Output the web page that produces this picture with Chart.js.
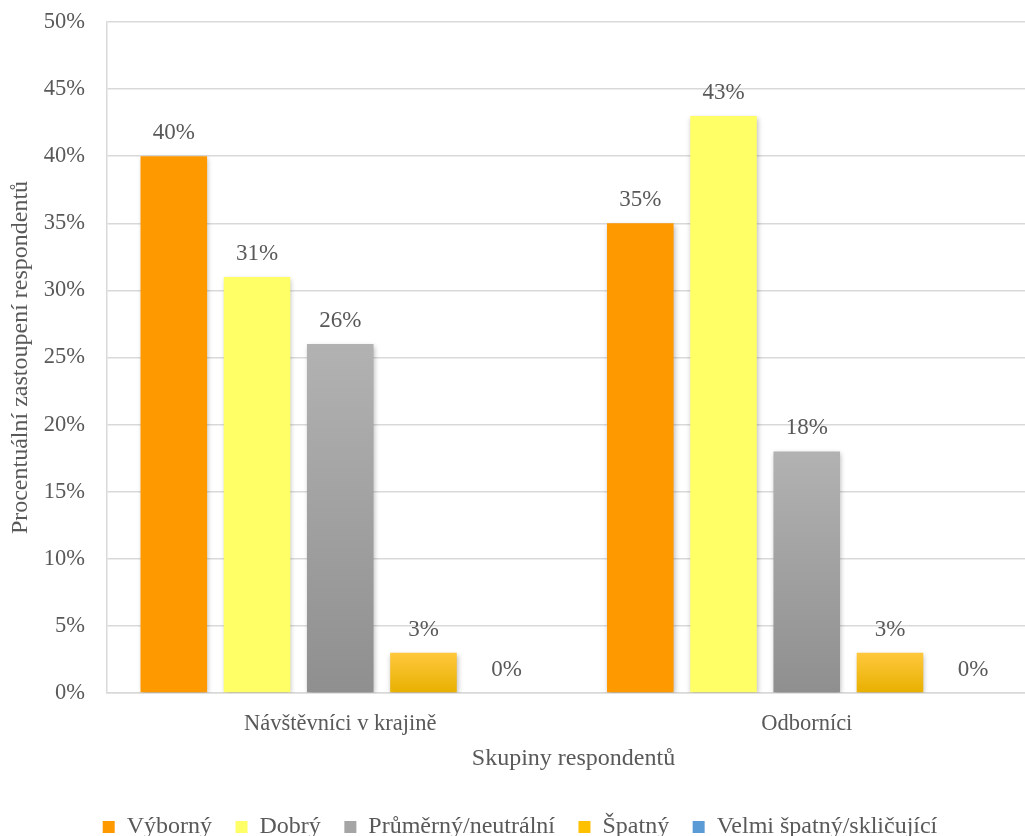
<!DOCTYPE html>
<html>
<head>
<meta charset="utf-8">
<script src="https://cdn.jsdelivr.net/npm/chart.js@4/dist/chart.umd.min.js"></script>
<style>
  html, body { margin: 0; padding: 0; background: #fff; overflow: hidden; }
  #wrap { width: 1045px; height: 849px; position: relative; }
</style>
</head>
<body>
<div id="wrap"><canvas id="chart"></canvas></div>
<script>
const categories = ['Návštěvníci v krajině', 'Odborníci'];
const seriesNames = ['Výborný', 'Dobrý', 'Průměrný/neutrální', 'Špatný', 'Velmi špatný/skličující'];
const vyborny     = [40, 35];
const dobry       = [31, 43];
const prumerny    = [26, 18];
const spatny      = [3, 3];
const velmiSpatny = [0, 0];
const yTicks = [0, 5, 10, 15, 20, 25, 30, 35, 40, 45, 50];

const FONT = '"Liberation Serif", "Times New Roman", serif';
const TEXT = '#595959';
const GRID = '#d9d9d9';

// vertical gradient spanning the bar from its top down to zero
function barGradient(top, bottom) {
  return (c) => {
    const chart = c.chart;
    if (!chart.chartArea || c.type !== 'data') return bottom;
    const y = chart.scales.y;
    const v = c.raw ?? 0;
    const y0 = y.getPixelForValue(0), y1 = y.getPixelForValue(v);
    if (y0 === y1) return bottom;
    const g = chart.ctx.createLinearGradient(0, y1, 0, y0);
    g.addColorStop(0, top);
    g.addColorStop(1, bottom);
    return g;
  };
}

const legendColors = ['#ff9900', '#ffff66', '#a5a5a5', '#ffc000', '#5b9bd5'];

const shadowPlugin = {
  id: 'barShadow',
  beforeDatasetsDraw(chart) {
    const ctx = chart.ctx;
    ctx.save();
    ctx.shadowColor = 'rgba(0,0,0,0.28)';
    ctx.shadowBlur = 5;
    ctx.shadowOffsetX = 1;
    ctx.shadowOffsetY = 2;
  },
  afterDatasetsDraw(chart) {
    chart.ctx.restore();
  },
};

const valueLabels = {
  id: 'valueLabels',
  afterDraw(chart) {
    const ctx = chart.ctx;
    ctx.save();
    ctx.font = '23px ' + FONT;
    ctx.fillStyle = TEXT;
    ctx.textAlign = 'center';
    ctx.textBaseline = 'middle';
    chart.data.datasets.forEach((ds, i) => {
      chart.getDatasetMeta(i).data.forEach((el, j) => {
        ctx.fillText(ds.data[j] + '%', el.x, el.y - 23);
      });
    });
    ctx.restore();
  },
};

new Chart(document.getElementById('chart'), {
  type: 'bar',
  data: {
    labels: categories,
    datasets: [
      { label: seriesNames[0], data: vyborny, backgroundColor: '#ff9900' },
      { label: seriesNames[1], data: dobry, backgroundColor: '#ffff66' },
      { label: seriesNames[2], data: prumerny, backgroundColor: barGradient('#b2b2b2', '#8f8f8f') },
      { label: seriesNames[3], data: spatny, backgroundColor: barGradient('#ffc83d', '#e8b000') },
      { label: seriesNames[4], data: velmiSpatny, backgroundColor: '#5b9bd5' },
    ],
  },
  options: {
    responsive: true,
    maintainAspectRatio: false,
    animation: false,
    categoryPercentage: 0.892,
    barPercentage: 0.8,
    layout: { padding: { top: 0, right: 5, bottom: 0, left: 0 } },
    plugins: {
      tooltip: { enabled: false },
      legend: {
        position: 'bottom',
        labels: {
          font: { family: FONT, size: 24 },
          color: TEXT,
          boxWidth: 12,
          boxHeight: 12,
          padding: 23.5,
          generateLabels: (chart) => chart.data.datasets.map((ds, i) => ({
            text: ds.label,
            fillStyle: legendColors[i],
            strokeStyle: legendColors[i],
            lineWidth: 0,
            fontColor: TEXT,
            datasetIndex: i,
          })),
        },
      },
    },
    scales: {
      x: {
        grid: { display: false },
        border: { display: true, color: GRID, width: 1.5 },
        afterFit: (s) => { s.height = 98.5; },
        ticks: { font: { family: FONT, size: 22.5 }, color: TEXT, padding: 9.5 },
        title: {
          display: true,
          text: 'Skupiny respondentů',
          font: { family: FONT, size: 24 },
          color: TEXT,
          padding: { top: 0, bottom: 18 },
        },
      },
      y: {
        min: 0,
        max: 50,
        afterBuildTicks: (s) => { s.ticks = yTicks.map(v => ({ value: v })); },
        afterFit: (s) => { s.width = 107; s.paddingTop = 22; },
        grid: { color: GRID, lineWidth: 1.5, drawTicks: false },
        border: { display: true, color: GRID, width: 1.5 },
        ticks: {
          font: { family: FONT, size: 22.5 },
          color: TEXT,
          padding: 22,
          callback: (v) => v + '%',
        },
        title: {
          display: true,
          text: 'Procentuální zastoupení respondentů',
          font: { family: FONT, size: 24 },
          color: TEXT,
          padding: { top: 6, bottom: 0 },
        },
      },
    },
  },
  plugins: [shadowPlugin, valueLabels],
});
</script>
</body>
</html>
